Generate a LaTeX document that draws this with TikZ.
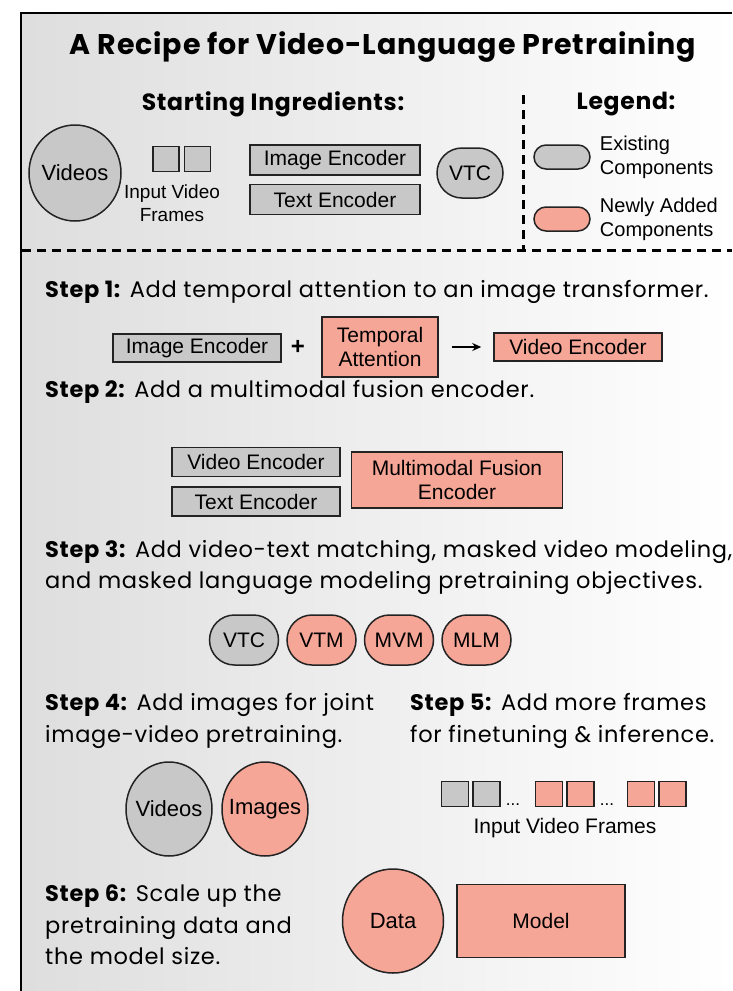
\documentclass[tikz,border=0pt]{standalone}
\usepackage{fontspec}
\setmainfont{Liberation Sans}
\newfontfamily\handfont[LetterSpace=3]{Poppins}
\usepackage{tikz}
\usetikzlibrary{positioning}
\usetikzlibrary{shapes.misc}
\usetikzlibrary{shapes.geometric}
\usetikzlibrary{arrows.meta}
\definecolor{oldgray}{RGB}{200,200,200}
\definecolor{newsalmon}{RGB}{246,166,150}
\definecolor{edgegray}{RGB}{35,35,35}
\newcommand{\stepname}[1]{\textbf{Step #1:}}

\begin{document}
\begin{tikzpicture}[x=1pt, y=-1pt,
oldbox/.style={rectangle, draw=edgegray, fill=oldgray, line width=1.5pt, inner sep=0pt, align=center, font=\fontsize{21}{24}\selectfont},
newbox/.style={oldbox, fill=newsalmon},
oldpill/.style={rounded rectangle, draw=edgegray, fill=oldgray, line width=1.5pt, inner sep=0pt, minimum width=69pt, minimum height=50pt, font=\fontsize{21}{24}\selectfont},
newpill/.style={oldpill, fill=newsalmon},
oldblob/.style={ellipse, draw=edgegray, fill=oldgray, line width=1.5pt, inner sep=-14pt, font=\fontsize{22}{24}\selectfont},
newblob/.style={oldblob, fill=newsalmon},
oldframe/.style={rectangle, draw=edgegray, fill=oldgray, line width=1.5pt, inner sep=0pt, minimum width=26pt, minimum height=25pt},
newframe/.style={oldframe, fill=newsalmon},
plaintext/.style={inner sep=0pt, align=center, font=\fontsize{19}{23}\selectfont},
steptext/.style={anchor=west, inner sep=0pt, align=left, font=\handfont\fontsize{22.5}{31.5}\selectfont},
headtext/.style={inner sep=0pt, font=\handfont\bfseries\fontsize{23.5}{26}\selectfont},
dashline/.style={line width=3pt, dash pattern=on 9pt off 6pt},
]
\useasboundingbox (0,0) rectangle (732,991);
%Background and frame
\shade[left color=gray!26, right color=white] (21,13) rectangle (732,991);
\draw[line width=2pt] (732,13) -- (21,13) -- (21,991);

%Nodes
\node[headtext, font=\handfont\bfseries\fontsize{28.5}{30}\selectfont] (title) at (383,47) {A Recipe for Video-Language Pretraining};
\node[headtext] (ingredients) at (273,104) {Starting Ingredients:};
\node[headtext] (legend) at (626,104) {Legend:};

\node[oldblob, minimum width=92pt, minimum height=96pt] (videos) at (75,173) {Videos};
\node[oldframe] (frame1) at (166,159) {};
\node[oldframe] (frame2) [right=4pt of frame1] {};
\node[plaintext] (frameslbl) at (172,203) {Input Video\\Frames};
\node[oldbox, minimum width=170pt, minimum height=30pt] (imgenc) at (335,160) {Image Encoder};
\node[oldbox, minimum width=170pt, minimum height=30pt] (txtenc) [below=8pt of imgenc] {Text Encoder};
\node[oldpill, minimum width=66pt] (vtc) at (470,173) {VTC};

\node[oldpill, minimum width=56pt, minimum height=24pt] (oldkey) at (562,157) {};
\node[newpill, minimum width=56pt, minimum height=24pt] (newkey) at (562,219) {};
\node[plaintext, align=left, anchor=west, font=\fontsize{20}{24}\selectfont] (oldkeylbl) [right=9pt of oldkey] {Existing\\Components};
\node[plaintext, align=left, anchor=west, font=\fontsize{20}{24}\selectfont] (newkeylbl) [right=9pt of newkey] {Newly Added\\Components};

\node[steptext] (step1) at (45,292) {\stepname{1} Add temporal attention to an image transformer.};
\node[oldbox, minimum width=168pt, minimum height=28pt] (imgenc1) at (197,348) {Image Encoder};
\node[plaintext, font=\bfseries\fontsize{24}{24}\selectfont] (plus) at (298,347) {+};
\node[newbox, minimum width=116pt, minimum height=60pt] (tempatt) at (380,347) {Temporal\\Attention};
\node[newbox, minimum width=168pt, minimum height=28pt] (videnc1) at (578,347) {Video Encoder};

\node[steptext] (step2) at (45,392) {\stepname{2} Add a multimodal fusion encoder.};
\node[oldbox, minimum width=168pt, minimum height=29pt] (videnc2) at (256,462) {Video Encoder};
\node[oldbox, minimum width=168pt, minimum height=29pt] (txtenc2) [below=9pt of videnc2] {Text Encoder};
\node[newbox, minimum width=211pt, minimum height=56pt] (fusion) at (457,480) {Multimodal Fusion\\Encoder};

\node[steptext] (step3) at (45,567.5) {\stepname{3} Add video-text matching, masked video modeling,\\and masked language modeling pretraining objectives.};
\node[oldpill] (vtc3) at (244,640) {VTC};
\node[newpill] (vtm) [right=7pt of vtc3] {VTM};
\node[newpill] (mvm) [right=7pt of vtm] {MVM};
\node[newpill] (mlm) [right=7pt of mvm] {MLM};

\node[steptext] (step4) at (45,721) {\stepname{4} Add images for joint\\image-video pretraining.};
\node[steptext] (step5) at (410,721) {\stepname{5} Add more frames\\for finetuning \& inference.};
\node[oldblob, minimum width=86pt, minimum height=94pt] (videos4) at (169,809) {Videos};
\node[newblob, minimum width=86pt, minimum height=94pt] (images) at (265,809) {Images};

\node[oldframe, minimum width=27pt] (f1) at (455,794) {};
\node[oldframe, minimum width=27pt] (f2) [right=3pt of f1] {};
\node[plaintext, anchor=south west, font=\fontsize{17}{17}\selectfont] (dots1) at ([xshift=5pt, yshift=2pt]f2.south east) {...};
\node[newframe, minimum width=27pt] (f3) at (549,794) {};
\node[newframe, minimum width=27pt] (f4) [right=3pt of f3] {};
\node[plaintext, anchor=south west, font=\fontsize{17}{17}\selectfont] (dots2) at ([xshift=5pt, yshift=2pt]f4.south east) {...};
\node[newframe, minimum width=27pt] (f5) at (641,794) {};
\node[newframe, minimum width=27pt] (f6) [right=3pt of f5] {};
\node[plaintext, font=\fontsize{21}{24}\selectfont] (frameslbl5) at (565,828) {Input Video Frames};

\node[steptext] (step6) at (45,925) {\stepname{6} Scale up the\\pretraining data and\\the model size.};
\node[newblob, minimum width=101pt, minimum height=104pt] (data) at (393,921) {Data};
\node[newbox, minimum width=168pt, minimum height=73pt] (model) at (541,921) {Model};

%Lines
\coordinate (vtop) at (523,95);
\coordinate (vbot) at (523,250);
\coordinate (hleft) at (22,250);
\coordinate (hright) at (732,250);
\draw[dashline] (vtop) -- (vbot);
\draw[dashline] (hleft) -- (hright);
\draw[line width=2pt, -{Stealth[length=9pt, width=8pt]}, shorten <=13pt, shorten >=12pt] (tempatt.east) -- (videnc1.west);
\end{tikzpicture}
\end{document}
